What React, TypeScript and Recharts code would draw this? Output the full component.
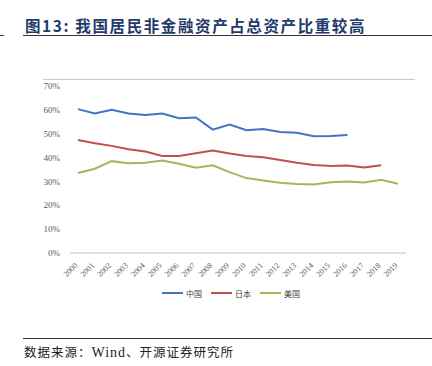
import React from "react";
import { LineChart, Line, XAxis, YAxis, Legend } from "recharts";

// 图13 我国居民非金融资产占总资产比重 (%)
const years = [
  "2000", "2001", "2002", "2003", "2004", "2005", "2006", "2007", "2008", "2009",
  "2010", "2011", "2012", "2013", "2014", "2015", "2016", "2017", "2018", "2019",
];
const china = [60.3, 58.5, 60.0, 58.5, 57.8, 58.5, 56.5, 56.8, 51.7, 53.8, 51.5, 52.0, 50.7, 50.4, 48.9, 49.0, 49.5, null, null, null];
const japan = [47.4, 46.0, 44.9, 43.5, 42.5, 40.7, 40.7, 41.8, 43.0, 41.7, 40.7, 40.1, 39.0, 37.8, 36.9, 36.5, 36.7, 35.8, 36.8, null];
const usa = [33.5, 35.3, 38.5, 37.6, 37.8, 38.8, 37.4, 35.7, 36.8, 33.9, 31.4, 30.4, 29.4, 28.9, 28.7, 29.7, 30.0, 29.6, 30.7, 29.0];
const yTicks = [0, 10, 20, 30, 40, 50, 60, 70];

const series = [
  { key: "china", name: "中国", color: "#4472C4" },
  { key: "japan", name: "日本", color: "#C0504D" },
  { key: "usa", name: "美国", color: "#9BBB59" },
];

const data = years.map((y, i) => ({ year: y, china: china[i], japan: japan[i], usa: usa[i] }));

const serif = "'Liberation Serif', 'Times New Roman', serif";
const cjk = "'Noto Sans CJK SC', sans-serif";

function LegendBox() {
  return (
    <div style={{ display: "flex", justifyContent: "center", alignItems: "center", height: 20, gap: 9, paddingLeft: 56 }}>
      {series.map((s) => (
        <div key={s.key} style={{ display: "flex", alignItems: "center", gap: 3 }}>
          <span style={{ display: "inline-block", width: 21, height: 2, background: s.color }} />
          <span style={{ fontFamily: cjk, fontSize: 8, color: "#404040" }}>{s.name}</span>
        </div>
      ))}
    </div>
  );
}

function XTick({ x, y, payload }: any) {
  return (
    <text x={x} y={y + 5} transform={`rotate(-45 ${x} ${y + 5})`} textAnchor="end" fontSize={8} fill="#595959" fontFamily={serif}>
      {payload.value}
    </text>
  );
}

export default function App() {
  return (
    <div style={{ position: "absolute", left: 0, top: 0, width: 432, height: 366, background: "#fff", overflow: "hidden" }}>
      <div style={{ position: "absolute", left: 0, top: 35, width: 4, height: 1, background: "#333" }} />
      <div style={{ position: "absolute", left: 25, top: 14, fontFamily: cjk, fontWeight: 700, fontSize: 15.5, letterSpacing: 1.6, color: "#1F3A6B", whiteSpace: "nowrap" }}>
        图13:&nbsp;我国居民非金融资产占总资产比重较高
      </div>
      <div style={{ position: "absolute", left: 23, top: 35, width: 409, height: 1, background: "#333" }} />
      <div style={{ position: "absolute", left: 43, top: 79, width: 372, height: 1, background: "#c8c8c8" }} />
      <div style={{ position: "absolute", left: 0, top: 70 }}>
        <LineChart width={432} height={237} data={data} margin={{ top: 16, right: 26, bottom: 0, left: 0 }}>
          <XAxis
            dataKey="year"
            interval={0}
            height={30}
            padding={{ left: 8, right: 8 }}
            tickLine={false}
            axisLine={{ stroke: "#bfbfbf" }}
            tick={<XTick />}
          />
          <YAxis
            width={70}
            domain={[0, 70]}
            ticks={yTicks}
            tickFormatter={(v) => `${v}%`}
            axisLine={false}
            tickLine={false}
            tickMargin={4}
            tick={{ fontSize: 9, fill: "#595959", fontFamily: serif }}
          />
          <Legend verticalAlign="bottom" height={24} content={() => <LegendBox />} />
          {series.map((s) => (
            <Line
              key={s.key}
              dataKey={s.key}
              name={s.name}
              stroke={s.color}
              strokeWidth={2}
              dot={false}
              isAnimationActive={false}
            />
          ))}
        </LineChart>
      </div>
      <div style={{ position: "absolute", left: 23, top: 338, width: 409, height: 1, background: "#333" }} />
      <div style={{ position: "absolute", left: 24, top: 342, fontFamily: cjk, fontSize: 12.5, letterSpacing: 1, color: "#222", whiteSpace: "nowrap" }}>
        数据来源：<span style={{ fontFamily: serif, fontSize: 14 }}>Wind</span>、开源证券研究所
      </div>
    </div>
  );
}
